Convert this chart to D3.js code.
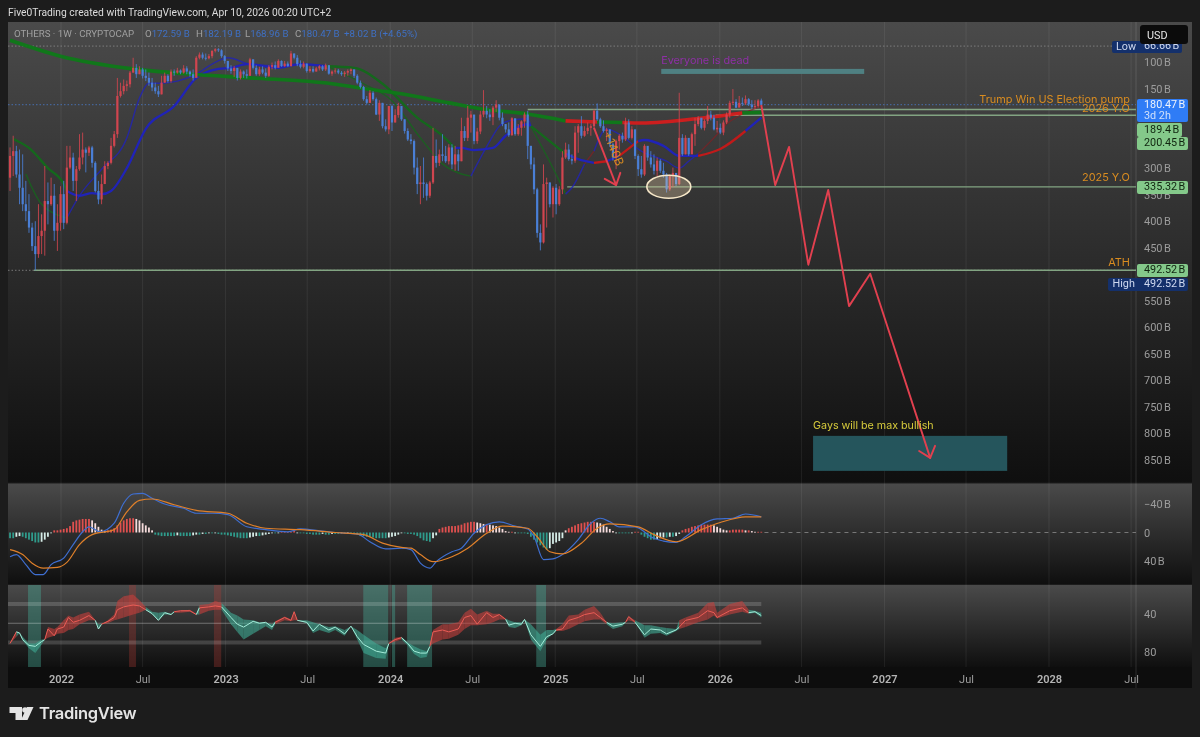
<!DOCTYPE html>
<html>
<head>
<meta charset="utf-8">
<title>OTHERS 1W</title>
<script src="https://cdn.jsdelivr.net/npm/d3@7"></script>
<style>
  html, body { margin: 0; padding: 0; background: #1c1c1c; }
  svg { display: block; font-family: Roboto, "Noto Sans", sans-serif; filter: blur(0.35px); }
  .axis .domain, .axis line { display: none; }
</style>
</head>
<body>
<script>
// weekly candles, values in billions, oldest first (the price scale is inverted)
const firstOpen = 318;
const closes = [
  277,268,312,337,368,381,412,447,462,428,
  418,362,368,352,418,403,349,403,299,280,
  324,302,280,265,271,261,290,343,359,330,
  296,290,258,236,164,155,145,142,120,111,
  123,114,126,130,139,148,155,161,139,126,
  136,118,120,116,120,112,118,123,130,92,
  86,92,93,89,79,76,78,89,98,
  112,117,111,130,118,123,126,95,111,123,
  114,120,126,109,106,111,98,108,103,108,
  84,92,104,109,103,117,113,118,112,108,
  114,106,122,118,116,120,123,120,117,114,
  126,139,147,170,177,158,170,199,177,221,
  227,183,214,200,183,208,230,246,249,299,
  330,327,330,352,327,277,290,274,277,287,
  261,293,274,
  287,230,243,205,199,249,231,199,192,199,
  204,186,180,205,217,227,238,206,236,224,
  212,199,258,293,340,422,440,330,327,368,
  337,368,340,280,265,283,286,233,221,239,
  230,224,221,192,208,221,230,227,255,280,
  249,239,246,214,243,227,277,302,312,258,
  280,293,305,286,305,312,340,315,309,330,
  243,274,243,274,236,217,205,224,211,199,
  205,227,224,233,214,199,177,175,186,177,
  178,170,180,185,183,172.59,180.47
];
const lows = [
  261,239,258,265,274,324,349,403,400,368,
  387,296,327,318,330,368,334,324,258,258,
  271,296,236,233,261,258,258,287,324,312,
  287,287,243,230,130,139,133,135,117,92,
  104,108,111,114,120,130,139,145,126,120,
  123,114,114,111,114,106,108,116,114,89,
  82,82,84,85,78,74,74,76,87,
  98,106,108,116,114,116,114,92,95,106,
  109,108,112,106,101,99,95,97,98,99,
  79,84,87,97,99,103,108,108,109,106,
  106,103,106,116,112,113,117,117,114,112,
  114,123,135,145,164,153,155,167,172,177,
  208,183,180,189,177,183,208,225,236,246,
  280,296,280,327,324,224,246,265,236,258,
  255,255,258,
  265,205,221,183,192,221,224,192,153,183,
  189,183,172,183,195,217,214,204,221,217,
  210,195,192,258,280,337,406,293,318,327,
  334,330,334,268,252,255,274,221,217,202,
  221,214,217,189,178,205,210,224,227,252,
  246,236,233,205,208,221,227,274,277,255,
  265,268,274,280,283,290,309,312,299,312,
  158,236,238,249,233,205,202,210,208,183,
  192,199,211,216,210,195,173,151,170,164,
  167,163,168,172,172,170,168.96
];
const highs = [
  343,315,318,368,381,400,422,456,492.52,469,
  462,465,406,371,437,456,418,415,406,302,
  343,362,305,293,308,277,299,346,368,368,
  321,302,293,261,243,167,161,155,148,120,
  130,123,131,136,145,155,160,166,161,139,
  139,139,126,122,123,122,123,128,135,126,
  95,95,97,95,93,82,81,92,103,
  117,122,128,135,133,130,131,126,114,126,
  126,123,130,128,114,114,109,109,109,109,
  108,95,108,112,112,120,120,120,118,116,
  117,117,124,126,122,123,126,128,126,123,
  130,142,150,173,180,177,173,200,211,225,
  231,236,230,214,205,211,235,249,255,312,
  349,368,356,361,356,330,299,296,287,290,
  293,302,305,
  305,287,249,249,233,255,254,236,204,206,
  211,219,194,210,221,233,241,239,239,239,
  239,224,283,302,349,431,455,442,412,374,
  393,387,371,349,283,286,293,290,271,244,
  241,236,239,227,211,224,233,249,260,286,
  302,265,252,249,246,246,283,315,318,315,
  286,299,312,315,309,318,346,343,336,334,
  332,277,274,277,269,258,221,227,229,217,
  210,229,233,236,238,217,205,181,187,183,
  183,181,183,189,189,186,182.19
];

// moving averages, week index from the first candle -> value, one colour letter per segment
const maLongWeeks = [0,16,39,60,76,102,113,124,139,150,164,176,186,194,200,220,232,238];
const maLongVals = [59,89,113,124,130,141,151,160,177,189,198,211,213,214,215,205,196,195];
const maLongCols = 'gggggggggggrgrrrgg'.split('');

const maSlowWeeks = [1,6,12,17,18,22,26,29,32,37,43,52,59,66,70,75,85,92,100,109,118,129,137,141,143,147,153,157,164,165,176,180,185,189,193,199,201,207,212,218,225,233,238];
const maSlowVals = [245,262,300,330,343,352,347,349,343,300,226,183,130,113,111,104,111,104,108,111,141,205,239,262,262,266,262,239,217,221,273,283,290,287,277,249,247,258,277,277,264,230,205];
const maSlowCols = ('gggg'+'bbbbbbbbbbbbbb'+'ggggg'+'bbbbbb'+'g'+'bb'+'r'+'b'+'r'+'bbbb'+'rr'+'bb').split('');

const maFastWeeks = [5,10,18,22,29,37,41,44,48,53,59,64,69,76,85,91,100,112,121,130,137,143,146,152,155,158,164,165,174,176,178,182,185,189,193,200,208,212,215,218,223,227,232,238];
const maFastVals = [311,368,394,352,302,243,168,140,140,136,123,104,92,104,107,104,107,141,173,243,292,311,315,249,221,211,207,221,324,349,337,292,268,226,236,268,287,300,287,273,243,217,198,183];
const maFastCols = ('gg'+'bbbbbbbbbbbbbb'+'gggggg'+'bbbbb'+'gg'+'bb'+'d'+'bbbbbbb'+'dddd'+'d').split('');

// levels and drawings
const levelVals = [492.52,335.32,189.4,200.45];
const levelStartWeeks = [7.6,176.5,164,223.5];
const forecastWeeks = [238,242.4,246.8,252.9,259.2,265.8,272.5,291.5];
const forecastVals = [181,332,260,482,341,560,499,846];

// MACD pane
const macdWeeks = [0,2,5,8,10.5,13,17,20,23,25,28.5,33,36,39,42,45,49,55,59,64,69,75,81,88,92,97,103,110,114,119,124,127,130,133,135,140,143,147,151,155,160,164,166,169,172,175,180,184,187,190,193,198,200,203,207,211,214,219,224,229,233,238];
const macdVals = [34,31,45,59,59,45,36,17,-1,-8,-1,-13,-41,-54,-55,-48,-40,-34,-27,-27,-25,-8,-4,-1,-5,-3,0,2,13,23,22,24,43,50,41,27,22,1,-11,-15,-9,-5,6,38,37,31,10,-13,-20,-15,-8,-8,-4,6,12,14,6,-11,-19,-20,-26,-22];
const signalWeeks = [0,4,7,10.5,15,18,22,26,33,37,41,45,52,59,69,75,81,92,103,112,118,124,127,130,134,140,145,151,156,164,167,171,175,181,186,190,199,204,211,219,225,233,238];
const signalVals = [24,31,43,50,49,42,17,3,-4,-29,-45,-47,-39,-31,-27,-13,-6,-4,0,3,15,21,22,31,41,34,22,1,-9,-6,6,27,30,15,-6,-12,-8,3,13,-4,-14,-22,-22];
const histVals = [
  8,8,6,5,6,8,10,12,14,14,
  13,10,6,1,-3,-3,-4,-5,-6,-9,
  -15,-17,-18,-19,-19,-19,-17,-13,-8,-4,
  -2,-3,-4,-6,-10,-14,-17,-19,-20,-20,
  -19,-17,-13,-10,-7,-3,3,4,5,5,
  5,5,5,4,5,5,5,5,4,3,
  3,2,2,1,1,0,2,3,3,4,
  5,6,7,8,8,8,7,6,5,5,
  4,3,2,1,1,0,-1,-1,-1,-1,
  -2,0,1,1,2,2,3,3,3,2,
  3,3,2,2,2,1,1,0,1,2,
  3,5,5,6,6,7,8,8,8,8,
  7,6,5,3,1,1,2,2,3,5,
  8,11,12,13,8,4,-5,-7,-8,-9,
  -9,-9,-10,-11,-13,-14,-15,-15,-14,-13,
  -12,-12,-11,-10,-9,-7,-5,-2,-1,-1,
  0,1,1,1,2,6,10,14,18,21,
  24,22,16,14,12,8,-3,-6,-8,-10,
  -12,-13,-14,-15,-15,-15,-14,-13,-11,-8,
  -5,-2,0,1,1,1,1,0,-1,-1,
  3,6,8,10,10,9,8,7,7,6,
  6,5,2,-3,-5,-6,-8,-9,-10,-11,
  -11,-11,-11,-10,-8,-6,-4,-3,-3,-4,
  -4,-4,-4,-3,-3,-2,-1,-1,-1
];

// RSI pane
const rsiWeeks = [0,2,3,4,6,8,10,11,12,14,15,17,18.5,20,22,25,27,28,29,31,33,34,36,39,41,43,45,47,49,51,52,54,57,59,60,63,65,67,70,72,74,77,79,81,83,84,87,89,90,91,94,96,98,101,103,106,108,110,112,116,119,120,122,124,126,128,130,132,133,134,137,139,142,144,146,148,151,153,155,157,158,160,162,163,165,168,170,172,173,175,177,180,182,185,187,189,191,194,195,196,198,201,203,206,208,211,212,214,218,221,223,224,228,232,234,236,238];
const rsiVals = [71,59,60,67,73,74,69,67,56,63,56,54,44,49,47,42,47,56,51,48,44,36,33,31,32,36,40,47,39,41,38,37,37,41,34,33,32,33,44,51,54,48,50,49,54,49,44,47,38,47,49,58,51,57,54,61,53,64,72,79,81,71,67,65,71,79,81,81,74,59,57,59,56,44,42,51,39,44,41,46,52,50,51,46,62,74,64,61,57,56,47,44,41,39,44,49,53,51,49,43,49,62,56,57,61,57,54,47,44,37,39,44,37,34,39,38,42];
const rsiBandTop = [71,58,60,64,71,71,67,67,54,56,54,47,42,44,41,38,47,51,51,47,41,27,22,20,26,33,38,39,38,40,38,37,36,40,31,30,27,29,39,42,46,47,49,49,51,48,43,46,38,47,47,49,51,54,53,57,53,57,62,71,76,71,65,64,70,74,77,79,74,57,51,51,49,39,35,41,37,40,40,45,47,49,49,46,51,62,57,57,56,51,42,41,36,32,39,49,50,49,49,43,47,52,52,54,55,56,47,44,39,29,28,39,30,27,36,37,39];
const rsiBandBot = [71,64,60,68,76,81,72,67,65,63,61,60,57,56,51,47,47,56,51,50,47,46,44,41,39,36,41,47,41,41,39,39,38,41,41,37,36,36,51,59,67,61,57,53,57,51,47,48,47,47,50,60,57,60,57,63,53,67,81,86,87,71,69,67,73,82,86,85,74,71,67,66,62,56,52,52,51,49,46,46,54,55,52,47,67,79,67,61,58,58,56,51,48,46,46,51,56,53,49,47,49,65,61,60,63,58,56,54,49,46,42,45,41,38,40,39,44];
const rsiCols = ('r'+'tttttt'+'rrrrrrrrr'+'tt'+'rrrrrrr'+'ttttt'+'rrr'+'t'+'rrr'+'tttttttt'+'rrrr'+'tttttttttttt'+'rr'+'ttttt'+'rrrrrrrrrrr'+'ttttttttt'+'rrrrrrr'+'ttt'+'rr'+'tttttt'+'rrrrrrrr'+'ttt').split('');
const rsiTealStarts = [5.7,111.9,121,125.8,166.7];
const rsiTealEnds = [9.8,119.8,122,133.7,169.8];
const rsiRedStarts = [37.7,64.6];
const rsiRedEnds = [39.9,66.9];

// axis labels
const priceTicks = [100,150,300,350,400,450,550,600,650,700,750,800,850];
const macdTicks = [-40,0,40];
const rsiTicks = [40,80];
const timeTicks = ['2022-01-01','2022-07-01','2023-01-01','2023-07-01','2024-01-01','2024-07-01','2025-01-01','2025-07-01','2026-01-01','2026-07-01','2027-01-01','2027-07-01','2028-01-01','2028-07-01'];

const W = 1200, H = 737;
const left = 8, plotRight = 1136, right = 1192;
const firstWeek = new Date(2021, 8, 10);
const weekDate = w => d3.timeHour.offset(firstWeek, w * 168);

const x = d3.scaleTime()
  .domain([new Date(2022, 0, 1), new Date(2028, 0, 1)])
  .range([61, 1049]);
const xw = w => x(weekDate(w));
const yPrice = d3.scaleLinear().domain([100, 850]).range([62, 460]);
const yMacd = d3.scaleLinear().domain([-40, 40]).range([504, 561]);
const yRsi = d3.scaleLinear().domain([30, 70]).range([604, 642.5]);

const svg = d3.select('body').append('svg').attr('width', W).attr('height', H);
const defs = svg.append('defs');
const paneGrad = defs.append('linearGradient').attr('id', 'pane').attr('x1', 0).attr('x2', 0).attr('y1', 0).attr('y2', 1);
paneGrad.append('stop').attr('offset', 0).attr('stop-color', '#4a4a4a');
paneGrad.append('stop').attr('offset', 1).attr('stop-color', '#0f0f0f');

svg.append('rect').attr('width', W).attr('height', H).attr('fill', '#1c1c1c');
svg.append('text').attr('x', 8).attr('y', 16).attr('fill', '#dcdcdc').attr('font-size', 10.3)
  .text('Five0Trading created with TradingView.com, Apr 10, 2026 00:20 UTC+2');

// panes
const panes = [[22, 482.5], [483.5, 584], [585, 667]];
panes.forEach(p => {
  svg.append('rect').attr('x', left).attr('y', p[0]).attr('width', right - left).attr('height', p[1] - p[0]).attr('fill', 'url(#pane)');
});
svg.append('rect').attr('x', left).attr('y', 667).attr('width', right - left).attr('height', 21).attr('fill', '#0d0d0d');

// grid
svg.append('g').selectAll('line').data(timeTicks).enter().append('line')
  .attr('x1', d => x(new Date(d + 'T00:00:00')))
  .attr('x2', d => x(new Date(d + 'T00:00:00')))
  .attr('y1', 22).attr('y2', 667)
  .attr('stroke', '#fff').attr('stroke-opacity', 0.07);
svg.append('line').attr('x1', plotRight).attr('x2', plotRight).attr('y1', 22).attr('y2', 688)
  .attr('stroke', '#fff').attr('stroke-opacity', 0.13);

// dotted reference lines
[[70, '#8a8a8a'], [492.52, '#8a8a8a'], [180.47, '#4a78c8']].forEach(d => {
  svg.append('line').attr('x1', left).attr('x2', plotRight)
    .attr('y1', yPrice(d[0])).attr('y2', yPrice(d[0]))
    .attr('stroke', d[1]).attr('stroke-width', 0.8).attr('stroke-dasharray', '1.5 2');
});

// price levels
svg.append('g').selectAll('line').data(levelVals).enter().append('line')
  .attr('x1', (d, i) => xw(levelStartWeeks[i]))
  .attr('x2', plotRight)
  .attr('y1', d => yPrice(d)).attr('y2', d => yPrice(d))
  .attr('stroke', '#82a482').attr('stroke-width', 1.4);

// moving averages, one path per colour run
const maColors = { g: '#14681c', b: '#2023b8', r: '#c01a1a', d: '#7c2226' };
function drawRuns(parent, weeks, vals, cols, width, palette, opacity) {
  const line = d3.line().x(d => xw(weeks[d])).y(d => yPrice(vals[d])).curve(d3.curveMonotoneX);
  let start = 0;
  for (let i = 1; i < weeks.length; i++) {
    if (i === weeks.length - 1 || cols[i] !== cols[start]) {
      parent.append('path')
        .attr('d', line(d3.range(start, i + 1)))
        .attr('fill', 'none')
        .attr('stroke', palette[cols[start]])
        .attr('stroke-width', width)
        .attr('stroke-opacity', opacity);
      start = i;
    }
  }
}
const maLayer = svg.append('g');
drawRuns(maLayer, maFastWeeks, maFastVals, maFastCols, 1.4, maColors, 0.8);
drawRuns(maLayer, maSlowWeeks, maSlowVals, maSlowCols, 2.3, maColors, 1);
drawRuns(maLayer, maLongWeeks, maLongVals, maLongCols, 3.6, { g: '#0e7a18', r: '#d41c1c' }, 0.95);

// candles
const opens = closes.map((c, i) => (i === 0 ? firstOpen : closes[i - 1]));
const candleColor = i => (closes[i] >= opens[i] ? '#4a7fd6' : '#d0454f');
const candles = svg.append('g').selectAll('g').data(d3.range(closes.length)).enter().append('g');
candles.append('line')
  .attr('x1', i => xw(i)).attr('x2', i => xw(i))
  .attr('y1', i => yPrice(lows[i])).attr('y2', i => yPrice(highs[i]))
  .attr('stroke', candleColor).attr('stroke-width', 1).attr('stroke-opacity', 0.85);
candles.append('rect')
  .attr('x', i => xw(i) - 1.1).attr('width', 2.2)
  .attr('y', i => Math.min(yPrice(opens[i]), yPrice(closes[i])))
  .attr('height', i => Math.max(1, Math.abs(yPrice(closes[i]) - yPrice(opens[i]))))
  .attr('fill', candleColor);

// shaded boxes and text drawings
svg.append('rect').attr('x', xw(206.3)).attr('width', xw(270.6) - xw(206.3))
  .attr('y', yPrice(113)).attr('height', yPrice(122.5) - yPrice(113)).attr('fill', '#4f8082');
svg.append('rect').attr('x', xw(254.4)).attr('width', xw(315.9) - xw(254.4))
  .attr('y', yPrice(804.5)).attr('height', yPrice(870.5) - yPrice(804.5)).attr('fill', '#25555c');
svg.append('ellipse').attr('cx', xw(208.7)).attr('cy', yPrice(335)).attr('rx', 22).attr('ry', 11.5)
  .attr('fill', '#f5dcae').attr('fill-opacity', 0.3).attr('stroke', '#f6e7c8').attr('stroke-width', 1.6);

// forecast path and arrows
const arrowColor = '#e2404f';
function arrow(weeks, vals) {
  const pts = weeks.map((w, i) => [xw(w), yPrice(vals[i])]);
  svg.append('path').attr('d', d3.line()(pts)).attr('fill', 'none')
    .attr('stroke', arrowColor).attr('stroke-width', 1.9).attr('stroke-linejoin', 'round');
  const a = pts[pts.length - 2], b = pts[pts.length - 1];
  const ang = Math.atan2(b[1] - a[1], b[0] - a[0]);
  [-0.7, 0.7].forEach(o => {
    svg.append('line').attr('x1', b[0]).attr('y1', b[1])
      .attr('x2', b[0] - 13 * Math.cos(ang + o)).attr('y2', b[1] - 13 * Math.sin(ang + o))
      .attr('stroke', arrowColor).attr('stroke-width', 1.9).attr('stroke-linecap', 'round');
  });
}
arrow(forecastWeeks, forecastVals);
arrow([185, 192], [224, 332]);

const note = (w, v, txt, color, anchor, size) => svg.append('text')
  .attr('x', xw(w)).attr('y', yPrice(v)).attr('fill', color)
  .attr('font-family', 'Inter, "Noto Sans", sans-serif')
  .attr('font-size', size || 10.8).attr('text-anchor', anchor || 'start').text(txt);
note(206.3, 104, 'Everyone is dead', '#8e2fa6');
note(254.4, 791, 'Gays will be max bullish', '#d8cc3c', 'start', 10.7);
const orange = '#d98c20';
const endWeek = (1130 - 10) / 3.157;
note(endWeek, 178, 'Trump Win US Election pump', orange, 'end', 10.9);
note(endWeek, 195, '2026 Y.O', orange, 'end', 10.9);
note(endWeek, 325, '2025 Y.O', orange, 'end', 10.9);
note(endWeek, 484, 'ATH', orange, 'end', 10.9);
svg.append('text').attr('font-size', 12).attr('fill', orange).attr('text-anchor', 'middle')
  .attr('font-family', 'Inter, "Noto Sans", sans-serif')
  .attr('transform', `translate(${xw(190)},${yPrice(266)}) rotate(68)`).text('+140B');

// legend
const legend = svg.append('text').attr('x', 14).attr('y', 37).attr('font-size', 9.7).attr('fill', '#a0a0a0');
legend.append('tspan').text('OTHERS · 1W · CRYPTOCAP');
[[145, 'O', '172.59 B'], [196, 'H', '182.19 B'], [245, 'L', '168.96 B'], [295, 'C', '180.47 B']].forEach(d => {
  legend.append('tspan').attr('x', d[0]).text(d[1]);
  legend.append('tspan').attr('fill', '#3f70c4').text(d[2]);
});
legend.append('tspan').attr('x', 344).attr('fill', '#3f70c4').text('+8.02 B (+4.65%)');

// MACD
svg.append('line').attr('x1', xw(239)).attr('x2', plotRight)
  .attr('y1', yMacd(0)).attr('y2', yMacd(0))
  .attr('stroke', '#777').attr('stroke-dasharray', '4 4');
const histColor = i => {
  const v = histVals[i], prev = i ? histVals[i - 1] : 0;
  const growing = Math.abs(v) >= Math.abs(prev);
  if (v < 0) return growing ? '#e0504f' : '#f6dcdc';
  return growing ? '#2f9c8c' : '#d5ece7';
};
svg.append('g').selectAll('rect').data(histVals).enter().append('rect')
  .attr('x', (d, i) => xw(i) - 0.9).attr('width', 1.8)
  .attr('y', d => Math.min(yMacd(0), yMacd(d)))
  .attr('height', d => Math.max(0.8, Math.abs(yMacd(d) - yMacd(0))))
  .attr('fill', (d, i) => histColor(i));
const lineMacd = (weeks, vals, color) => svg.append('path')
  .attr('d', d3.line().x(d => xw(weeks[d])).y(d => yMacd(vals[d])).curve(d3.curveMonotoneX)(d3.range(weeks.length)))
  .attr('fill', 'none').attr('stroke', color).attr('stroke-width', 1.2);
lineMacd(macdWeeks, macdVals, '#3f6fd2');
lineMacd(signalWeeks, signalVals, '#e0802a');

// RSI
rsiTealStarts.forEach((s, i) => {
  svg.append('rect').attr('x', xw(s)).attr('width', xw(rsiTealEnds[i]) - xw(s))
    .attr('y', 585).attr('height', 82).attr('fill', '#46b09a').attr('fill-opacity', 0.38);
});
rsiRedStarts.forEach((s, i) => {
  svg.append('rect').attr('x', xw(s)).attr('width', xw(rsiRedEnds[i]) - xw(s))
    .attr('y', 585).attr('height', 82).attr('fill', '#b23a34').attr('fill-opacity', 0.32);
});
[[30, 4], [50, 1], [70, 4]].forEach(d => {
  svg.append('line').attr('x1', left).attr('x2', xw(238))
    .attr('y1', yRsi(d[0])).attr('y2', yRsi(d[0]))
    .attr('stroke', '#fff').attr('stroke-opacity', d[1] > 1 ? 0.16 : 0.32).attr('stroke-width', d[1]);
});
const rsiArea = d3.area().x(d => xw(rsiWeeks[d])).y0(d => yRsi(rsiBandTop[d])).y1(d => yRsi(rsiBandBot[d]));
const rsiLine = d3.line().x(d => xw(rsiWeeks[d])).y(d => yRsi(rsiVals[d]));
const rsiFill = { r: '#c8403c', t: '#3fae96' };
const rsiStroke = { r: '#ea5c55', t: '#a4ecd9' };
for (let i = 0; i < rsiWeeks.length - 1; i++) {
  svg.append('path').attr('d', rsiArea([i, i + 1])).attr('fill', rsiFill[rsiCols[i]]).attr('fill-opacity', 0.6);
}
for (let i = 0; i < rsiWeeks.length - 1; i++) {
  svg.append('path').attr('d', rsiLine([i, i + 1])).attr('fill', 'none')
    .attr('stroke', rsiStroke[rsiCols[i]]).attr('stroke-width', 1);
}

// axes
function styleAxis(g, size) {
  g.attr('class', 'axis');
  g.selectAll('text').attr('fill', '#9c9c9c').attr('font-size', size).attr('font-family', 'Roboto, "Noto Sans", sans-serif');
}
svg.append('g').attr('transform', `translate(${plotRight},0)`)
  .call(d3.axisRight(yPrice).tickValues(priceTicks).tickSize(0).tickPadding(8).tickFormat(d => d + '\u202fB'))
  .call(styleAxis, 11);
svg.append('g').attr('transform', `translate(${plotRight},0)`)
  .call(d3.axisRight(yMacd).tickValues(macdTicks).tickSize(0).tickPadding(8)
    .tickFormat(d => (d === 0 ? '0' : (d < 0 ? '\u2212' : '') + Math.abs(d) + '\u202fB')))
  .call(styleAxis, 11);
svg.append('g').attr('transform', `translate(${plotRight},0)`)
  .call(d3.axisRight(yRsi).tickValues(rsiTicks).tickSize(0).tickPadding(8))
  .call(styleAxis, 11);
const timeAxis = svg.append('g').attr('transform', 'translate(0,667)')
  .call(d3.axisBottom(x).tickValues(timeTicks.map(d => new Date(d + 'T00:00:00'))).tickSize(0).tickPadding(8)
    .tickFormat(d => (d.getMonth() === 0 ? d.getFullYear() : 'Jul')))
  .call(styleAxis, 11);
timeAxis.selectAll('text')
  .attr('font-weight', d => (d.getMonth() === 0 ? 600 : 400))
  .attr('fill', d => (d.getMonth() === 0 ? '#b4b4b4' : '#9c9c9c'));

// price tags on the right axis
function tag(x0, x1, y0, y1, fill) {
  svg.append('rect').attr('x', x0).attr('y', y0).attr('width', x1 - x0).attr('height', y1 - y0).attr('rx', 2).attr('fill', fill);
}
function tagText(xp, yp, txt, fill) {
  svg.append('text').attr('x', xp).attr('y', yp).attr('fill', fill).attr('font-size', 10.8).attr('dominant-baseline', 'middle').text(txt);
}
tag(1112, 1182, 41, 53, '#14306b');
tagText(1116, 47.5, 'Low', '#cfd9f0');
tagText(1144, 46, '66.66\u202fB', '#cfd9f0');
tag(1137, 1188, 99, 122, '#2f7cf6');
tagText(1144, 105, '180.47\u202fB', '#eef3fc');
tagText(1144, 116.5, '3d 2h', '#cfe0fb');
tag(1137, 1182, 123, 137, '#84c98a');
tagText(1144, 130, '189.4\u202fB', '#10240f');
tag(1137, 1188, 137, 150, '#84c98a');
tagText(1144, 143.5, '200.45\u202fB', '#10240f');
tag(1137, 1188, 181, 194, '#84c98a');
tagText(1144, 187.5, '335.32\u202fB', '#10240f');
tag(1137, 1188, 264, 277, '#84c98a');
tagText(1144, 270.5, '492.52\u202fB', '#10240f');
tag(1108, 1188, 278, 291, '#14306b');
tagText(1112.5, 284.5, 'High', '#cfd9f0');
tagText(1144, 284.5, '492.52\u202fB', '#cfd9f0');

// USD button
svg.append('rect').attr('x', 1140).attr('y', 25).attr('width', 48).attr('height', 19).attr('rx', 3).attr('fill', '#0b0b0b');
svg.append('text').attr('x', 1147).attr('y', 38.5).attr('fill', '#e6e6e6').attr('font-size', 10.8).text('USD');

// TradingView logo
const logo = svg.append('g').attr('fill', '#e4e4e4');
logo.append('path').attr('d', 'M9.5 707H22V720H15.5V713H9.5Z');
logo.append('circle').attr('cx', 25).attr('cy', 710).attr('r', 2.8);
logo.append('path').attr('d', 'M27 707H33.5L27.5 720H21Z');
logo.append('text').attr('x', 39).attr('y', 719).attr('font-family', 'Inter, "Noto Sans", sans-serif').attr('font-size', 16.5).attr('font-weight', 600).attr('letter-spacing', -0.3).text('TradingView');
</script>
</body>
</html>
